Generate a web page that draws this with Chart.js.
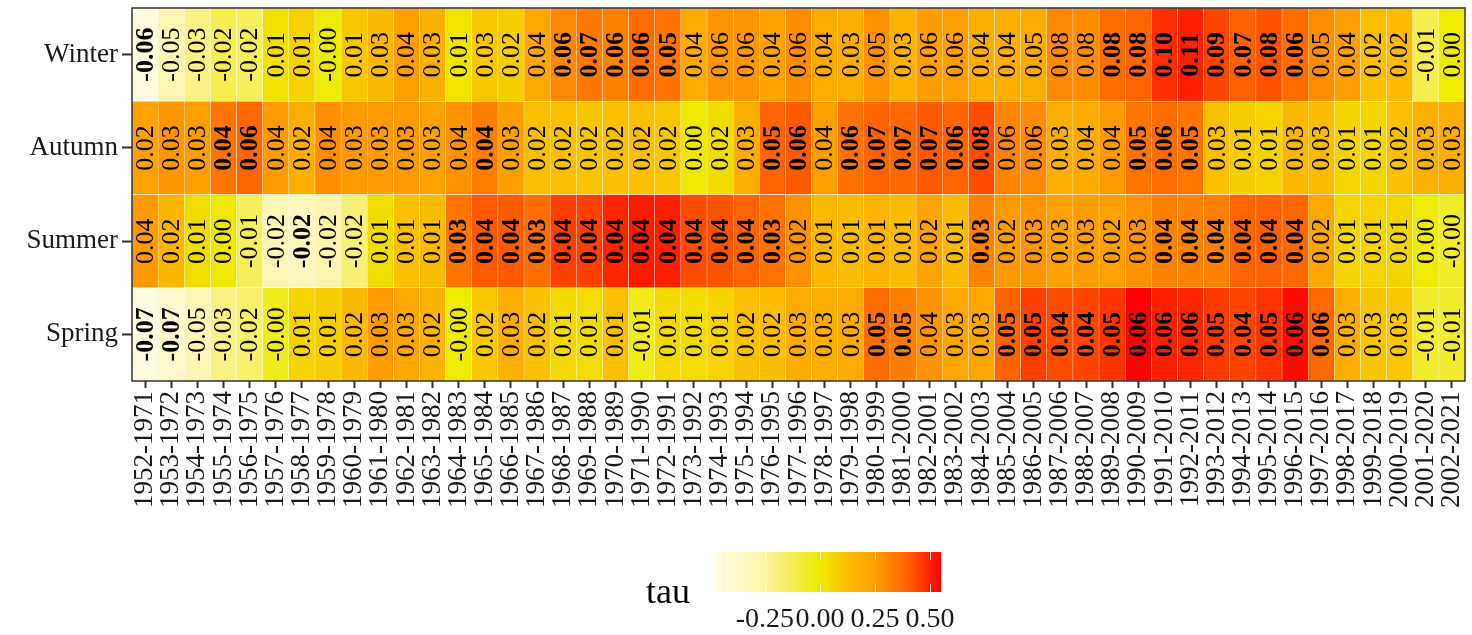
<!DOCTYPE html>
<html>
<head>
<meta charset="utf-8">
<script src="https://cdn.jsdelivr.net/npm/chart.js@4.4.1/dist/chart.umd.min.js"></script>
<style>
html,body{margin:0;padding:0;background:#fff;}
canvas{display:block;}
</style>
</head>
<body>
<canvas id="c" width="1472" height="635"></canvas>
<script>
// ---------- DATA ----------
const categories = ['1952-1971','1953-1972','1954-1973','1955-1974','1956-1975','1957-1976','1958-1977','1959-1978','1960-1979','1961-1980',
'1962-1981','1963-1982','1964-1983','1965-1984','1966-1985','1967-1986','1968-1987','1969-1988','1970-1989','1971-1990',
'1972-1991','1973-1992','1974-1993','1975-1994','1976-1995','1977-1996','1978-1997','1979-1998','1980-1999','1981-2000',
'1982-2001','1983-2002','1984-2003','1985-2004','1986-2005','1987-2006','1988-2007','1989-2008','1990-2009','1991-2010',
'1992-2011','1993-2012','1994-2013','1995-2014','1996-2015','1997-2016','1998-2017','1999-2018','2000-2019','2001-2020','2002-2021'];

const seasons = ['Spring','Summer','Autumn','Winter']; // bottom to top

// slope values shown as text
const winterSlope = [-0.06,-0.05,-0.03,-0.02,-0.02,0.01,0.01,-0,0.01,0.03,0.04,0.03,0.01,0.03,0.02,0.04,0.06,0.07,0.06,0.06,0.05,0.04,0.06,0.06,0.04,0.06,0.04,0.03,0.05,0.03,0.06,0.06,0.04,0.04,0.05,0.08,0.08,0.08,0.08,0.10,0.11,0.09,0.07,0.08,0.06,0.05,0.04,0.02,0.02,-0.01,0.00];
const autumnSlope = [0.02,0.03,0.03,0.04,0.06,0.04,0.02,0.04,0.03,0.03,0.03,0.03,0.04,0.04,0.03,0.02,0.02,0.02,0.02,0.02,0.02,0.00,0.02,0.03,0.05,0.06,0.04,0.06,0.07,0.07,0.07,0.06,0.08,0.06,0.06,0.03,0.04,0.04,0.05,0.06,0.05,0.03,0.01,0.01,0.03,0.03,0.01,0.01,0.02,0.03,0.03];
const summerSlope = [0.04,0.02,0.01,0.00,-0.01,-0.02,-0.02,-0.02,-0.02,0.01,0.01,0.01,0.03,0.04,0.04,0.03,0.04,0.04,0.04,0.04,0.04,0.04,0.04,0.04,0.03,0.02,0.01,0.01,0.01,0.01,0.02,0.01,0.03,0.02,0.03,0.03,0.03,0.02,0.03,0.04,0.04,0.04,0.04,0.04,0.04,0.02,0.01,0.01,0.01,0.00,-0];
const springSlope = [-0.07,-0.07,-0.05,-0.03,-0.02,-0,0.01,0.01,0.02,0.03,0.03,0.02,-0,0.02,0.03,0.02,0.01,0.01,0.01,-0.01,0.01,0.01,0.01,0.02,0.02,0.03,0.03,0.03,0.05,0.05,0.04,0.03,0.03,0.05,0.05,0.04,0.04,0.05,0.06,0.06,0.06,0.05,0.04,0.05,0.06,0.06,0.03,0.03,0.03,-0.01,-0.01];

// tau values (fill colour)
const winterTau = [-0.45,-0.30,-0.20,-0.12,-0.14,0.03,0.07,-0.01,0.10,0.15,0.25,0.18,0.02,0.10,0.08,0.21,0.30,0.34,0.32,0.37,0.35,0.20,0.27,0.27,0.23,0.29,0.20,0.19,0.28,0.17,0.25,0.25,0.19,0.19,0.20,0.30,0.29,0.37,0.39,0.48,0.50,0.44,0.40,0.42,0.37,0.29,0.25,0.12,0.14,-0.12,0.00];
const autumnTau = [0.24,0.27,0.25,0.35,0.38,0.26,0.19,0.29,0.26,0.26,0.26,0.24,0.28,0.33,0.25,0.12,0.12,0.11,0.12,0.12,0.10,0.01,0.04,0.19,0.39,0.41,0.25,0.36,0.39,0.38,0.41,0.39,0.43,0.31,0.30,0.19,0.20,0.26,0.35,0.37,0.35,0.12,0.08,0.07,0.15,0.14,0.06,0.06,0.12,0.18,0.19];
const summerTau = [0.26,0.16,0.04,0.01,-0.14,-0.30,-0.33,-0.28,-0.18,0.04,0.12,0.14,0.35,0.41,0.41,0.37,0.45,0.45,0.49,0.51,0.50,0.43,0.42,0.39,0.36,0.28,0.15,0.14,0.17,0.14,0.23,0.14,0.32,0.26,0.27,0.24,0.25,0.24,0.28,0.32,0.32,0.32,0.39,0.40,0.38,0.22,0.06,0.07,0.06,0.00,-0.06];
const springTau = [-0.45,-0.38,-0.30,-0.20,-0.16,-0.04,0.07,0.08,0.15,0.26,0.22,0.17,0.00,0.10,0.19,0.12,0.05,0.04,0.12,-0.04,0.05,0.04,0.07,0.12,0.13,0.20,0.19,0.20,0.37,0.33,0.28,0.22,0.22,0.39,0.45,0.43,0.44,0.47,0.55,0.50,0.49,0.46,0.44,0.47,0.53,0.38,0.19,0.11,0.10,-0.07,-0.07];

// significant (bold) cells, column indices
const winterSig = [0,16,17,18,19,20,37,38,39,40,41,42,43,44];
const autumnSig = [3,4,13,24,25,27,28,29,30,31,32,38,39,40];
const summerSig = [6,12,13,14,15,16,17,18,19,20,21,22,23,24,32,39,40,41,42,43,44];
const springSig = [0,1,28,29,33,34,35,36,37,38,39,40,41,42,43,44,45];

const legendTicks = [-0.25, 0.00, 0.25, 0.50];
const tauMin = -0.477, tauMax = 0.55;

// ---------- COLOUR SCALE ----------
const stops = [
  [-0.477,[255,253,230]],
  [-0.25,[250,243,165]],
  [0.00,[238,234,0]],
  [0.12,[250,192,0]],
  [0.25,[255,158,0]],
  [0.40,[255,96,0]],
  [0.55,[255,0,0]]
];
function colorFor(t){
  if(t<=stops[0][0]) return 'rgb('+stops[0][1].join(',')+')';
  for(let i=1;i<stops.length;i++){
    if(t<=stops[i][0]){
      const [t0,c0]=stops[i-1],[t1,c1]=stops[i];
      const f=(t-t0)/(t1-t0);
      const c=c0.map((v,k)=>Math.round(v+(c1[k]-v)*f));
      return 'rgb('+c.join(',')+')';
    }
  }
  return 'rgb('+stops[stops.length-1][1].join(',')+')';
}
function fmt(v){
  const neg = v<0 || Object.is(v,-0);
  return (neg?'-':'')+Math.abs(v).toFixed(2);
}

const slopeRows = [springSlope, summerSlope, autumnSlope, winterSlope];
const tauRows = [springTau, summerTau, autumnTau, winterTau];
const sigRows = [springSig, summerSig, autumnSig, winterSig];

const FONT = 'Liberation Serif, Times New Roman, serif';

const datasets = seasons.map((s,r)=>({
  label: s,
  data: categories.map(()=>[r, r+1]),
  backgroundColor: tauRows[r].map(colorFor),
  borderColor: 'rgba(255,255,255,0.45)',
  borderWidth: 0.5,
  borderSkipped: false,
  grouped: false,
  barPercentage: 1,
  categoryPercentage: 1
}));

const cellText = {
  id:'cellText',
  afterDatasetsDraw(chart){
    const ctx = chart.ctx;
    chart.data.datasets.forEach((ds,r)=>{
      const meta = chart.getDatasetMeta(r);
      meta.data.forEach((el,i)=>{
        const p = el.getCenterPoint();
        const bold = sigRows[r].includes(i);
        ctx.save();
        ctx.translate(p.x+1, p.y);
        ctx.rotate(-Math.PI/2);
        ctx.font = (bold?'bold ':'')+'26px '+FONT;
        ctx.fillStyle = '#000';
        ctx.textAlign = 'center';
        ctx.textBaseline = 'middle';
        ctx.fillText(fmt(slopeRows[r][i]), 0, 0);
        ctx.restore();
      });
    });
    // panel border
    const a = chart.chartArea;
    ctx.save();
    ctx.strokeStyle = '#333';
    ctx.lineWidth = 1.5;
    ctx.strokeRect(a.left, a.top, a.right-a.left, a.bottom-a.top);
    ctx.restore();
  }
};

const colorLegend = {
  id:'colorLegend',
  afterDraw(chart){
    const ctx = chart.ctx;
    const x0 = 715, x1 = 941, y0 = 552, y1 = 592;
    const xOf = t => x0 + (t - tauMin)/(tauMax - tauMin)*(x1 - x0);
    const g = ctx.createLinearGradient(x0,0,x1,0);
    for(let k=0;k<=60;k++){
      const t = tauMin + (tauMax-tauMin)*k/60;
      g.addColorStop(k/60, colorFor(t));
    }
    ctx.save();
    ctx.fillStyle = g;
    ctx.fillRect(x0,y0,x1-x0,y1-y0);
    ctx.strokeStyle = 'rgba(255,255,255,0.9)';
    ctx.lineWidth = 1;
    const tl = (y1-y0)/5;
    legendTicks.forEach(t=>{
      const x = Math.round(xOf(t))+0.5;
      ctx.beginPath();
      ctx.moveTo(x,y0); ctx.lineTo(x,y0+tl);
      ctx.moveTo(x,y1-tl); ctx.lineTo(x,y1);
      ctx.stroke();
    });
    ctx.fillStyle = '#1a1a1a';
    ctx.font = '28px '+FONT;
    ctx.textAlign = 'center';
    ctx.textBaseline = 'alphabetic';
    legendTicks.forEach(t=>{
      ctx.fillText(t.toFixed(2), xOf(t), 627);
    });
    ctx.font = '36px '+FONT;
    ctx.textAlign = 'left';
    ctx.fillStyle = '#000';
    ctx.fillText('tau', 646, 603);
    ctx.restore();
  }
};

new Chart(document.getElementById('c'), {
  type:'bar',
  data:{ labels: categories, datasets },
  options:{
    responsive:false,
    devicePixelRatio:1,
    animation:false,
    layout:{ padding:{ top:8, left:0, right:7, bottom:128 } },
    plugins:{ legend:{display:false}, tooltip:{enabled:false} },
    scales:{
      x:{
        type:'category',
        offset:true,
        grid:{ offset:false, drawOnChartArea:false, drawTicks:true, tickLength:7, tickWidth:2, tickColor:'#333' },
        border:{ display:false },
        ticks:{ autoSkip:false, maxRotation:90, minRotation:90, padding:3, color:'#1a1a1a', font:{ family:FONT, size:27 } },
        afterFit(s){ s.height = 126; s.paddingLeft = 0; s.paddingRight = 0; }
      },
      y:{
        type:'linear',
        min:0, max:4,
        afterBuildTicks(s){ s.ticks = [0.5,1.5,2.5,3.5].map(v=>({value:v})); },
        grid:{ drawOnChartArea:false, drawTicks:true, tickLength:10, tickWidth:2, tickColor:'#333' },
        border:{ display:false },
        ticks:{ padding:4, color:'#1a1a1a', font:{ family:FONT, size:27 }, callback:(v)=>seasons[Math.floor(v)] },
        afterFit(s){ s.width = 132; s.paddingTop = 0; s.paddingBottom = 0; }
      }
    }
  },
  plugins:[cellText, colorLegend]
});
</script>
</body>
</html>
